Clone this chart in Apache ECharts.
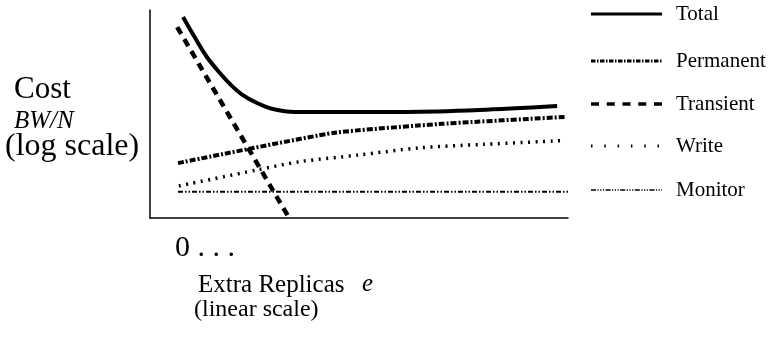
<!DOCTYPE html>
<html>
<head>
<meta charset="utf-8">
<script src="https://cdn.jsdelivr.net/npm/echarts@6/dist/echarts.min.js"></script>
<style>
  html, body { margin: 0; padding: 0; background: #fff; }
  #chart { width: 775px; height: 339px; }
</style>
</head>
<body>
<div id="chart"></div>
<script>
// Schematic cost curves versus extra replicas (x: 0..100, y: 0..100, arbitrary units)
const seriesNames = ['Total', 'Permanent', 'Transient', 'Write', 'Monitor'];

const totalPts = [[7.9, 96.6], [10.8, 86.5], [13.6, 77.4], [16.5, 70.2], [19.4, 63.9], [22.2, 59.1],
                  [25.6, 55.3], [29.4, 52.4], [34.7, 51.0], [61.5, 51.0], [78.9, 51.9], [97.4, 53.8]];
const permanentPts = [[6.7, 26.4], [43.8, 40.9], [70.0, 45.3], [99.5, 48.6]];
const transientPts = [[6.5, 91.8], [33.0, 1.0]];
const writePts = [[6.9, 15.4], [25.6, 23.1], [35.9, 27.1], [50.0, 30.3], [64.4, 33.7], [79.7, 35.4], [98.8, 37.2]];
const monitorPts = [[6.7, 12.6], [100, 12.6]];

const yAxisText = ['Cost', 'BW/N', '(log scale)'];
const xAxisText = ['0 . . .', 'Extra Replicas', 'e', '(linear scale)'];

const serif = '"Liberation Serif", "Times New Roman", serif';

// line styles for the plotted curves
const styles = {
  Total:     { width: 4,   dash: null,                        smooth: 0.3 },
  Permanent: { width: 4,   dash: [6, 2, 2, 2],                smooth: 0.15 },
  Transient: { width: 4.5, dash: [8, 6],                      smooth: false },
  Write:     { width: 3.5, dash: [2, 5.5],                    smooth: 0.3 },
  Monitor:   { width: 2,   dash: [5, 2, 1.5, 2, 1.5, 2],      smooth: false }
};
// line styles for the key
const keyStyles = {
  Total:     { width: 3,   dash: null },
  Permanent: { width: 3,   dash: [4.5, 1.5, 1.5, 1.5] },
  Transient: { width: 3.5, dash: [8, 7.75] },
  Write:     { width: 3,   dash: [1.5, 11.8] },
  Monitor:   { width: 1.5, dash: [5, 1.5, 1.2, 1.5, 1.2, 1.5, 1.2, 1.5] }
};
const pts = { Total: totalPts, Permanent: permanentPts, Transient: transientPts, Write: writePts, Monitor: monitorPts };

const series = seriesNames.map(name => ({
  name: name,
  type: 'line',
  data: pts[name],
  showSymbol: false,
  symbol: 'none',
  smooth: styles[name].smooth,
  silent: true,
  lineStyle: {
    color: '#000',
    width: styles[name].width,
    type: styles[name].dash || 'solid',
    cap: 'butt'
  }
}));

// key on the right
const keyY = [14, 61, 104, 146, 190];
const graphics = [];
seriesNames.forEach((name, i) => {
  const s = keyStyles[name];
  graphics.push({
    type: 'line', silent: true,
    shape: { x1: 591, y1: keyY[i], x2: 662, y2: keyY[i] },
    style: { stroke: '#000', lineWidth: s.width, lineDash: s.dash }
  });
  graphics.push({
    type: 'text', silent: true,
    style: { text: name, x: 676, y: keyY[i], font: '21px ' + serif, fill: '#000', textAlign: 'left', textVerticalAlign: 'middle' }
  });
});

// axis captions
graphics.push(
  { type: 'text', silent: true, style: { text: yAxisText[0], x: 14, y: 90, font: '31px ' + serif, fill: '#000', textVerticalAlign: 'middle' } },
  { type: 'text', silent: true, style: { text: yAxisText[1], x: 14, y: 121, font: 'italic 25px ' + serif, fill: '#000', textVerticalAlign: 'middle' } },
  { type: 'text', silent: true, style: { text: yAxisText[2], x: 5, y: 147, font: '32px ' + serif, fill: '#000', textVerticalAlign: 'middle' } },
  { type: 'text', silent: true, style: { text: xAxisText[0], x: 175, y: 248, font: '30px ' + serif, fill: '#000', textVerticalAlign: 'middle' } },
  { type: 'text', silent: true, style: { text: xAxisText[1], x: 198, y: 285, font: '25px ' + serif, fill: '#000', textVerticalAlign: 'middle' } },
  { type: 'text', silent: true, style: { text: xAxisText[2], x: 362, y: 284, font: 'italic 25px ' + serif, fill: '#000', textVerticalAlign: 'middle' } },
  { type: 'text', silent: true, style: { text: xAxisText[3], x: 194, y: 310, font: '24px ' + serif, fill: '#000', textVerticalAlign: 'middle' } }
);

const chart = echarts.init(document.getElementById('chart'), null, { renderer: 'canvas' });
chart.setOption({
  animation: false,
  backgroundColor: '#fff',
  grid: { left: 150, top: 10, width: 418, height: 208, containLabel: false },
  xAxis: {
    type: 'value', min: 0, max: 100,
    axisLine: { show: true, lineStyle: { color: '#000', width: 1.5 } },
    axisTick: { show: false }, axisLabel: { show: false }, splitLine: { show: false }
  },
  yAxis: {
    type: 'value', min: 0, max: 100,
    axisLine: { show: true, lineStyle: { color: '#000', width: 1.5 } },
    axisTick: { show: false }, axisLabel: { show: false }, splitLine: { show: false }
  },
  series: series,
  graphic: graphics
});
</script>
</body>
</html>
